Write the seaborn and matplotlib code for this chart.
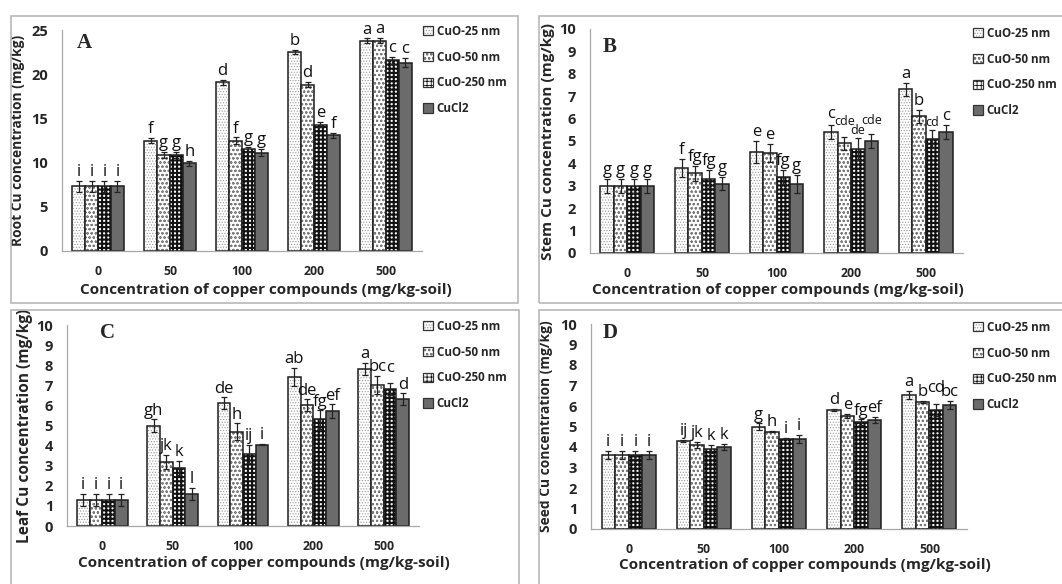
import numpy as np
import pandas as pd
import matplotlib
matplotlib.use("Agg")
import matplotlib.pyplot as plt
import matplotlib.patheffects as pe
import seaborn as sns
from matplotlib.patches import Patch, Rectangle

sns.set_theme(style="white")
plt.rcParams['font.family'] = ['Open Sans', 'DejaVu Sans']
plt.rcParams['hatch.linewidth'] = 0.6

concs = ["0", "50", "100", "200", "500"]
compounds = ["CuO-25 nm", "CuO-50 nm", "CuO-250 nm", "CuCl2"]

# Root (A)
root_vals = [[7.3, 12.5, 19.1, 22.5, 23.8],
             [7.3, 10.9, 12.5, 18.8, 23.8],
             [7.3, 10.9, 11.5, 14.3, 21.6],
             [7.3, 9.9, 11.1, 13.1, 21.3]]
root_err = [[0.6, 0.3, 0.3, 0.2, 0.25],
            [0.6, 0.35, 0.35, 0.3, 0.3],
            [0.6, 0.35, 0.3, 0.3, 0.4],
            [0.6, 0.3, 0.4, 0.3, 0.5]]
root_let = [["i", "f", "d", "b", "a"],
            ["i", "g", "f", "d", "a"],
            ["i", "g", "g", "e", "c"],
            ["i", "h", "g", "f", "c"]]

# Stem (B)
stem_vals = [[3.0, 3.8, 4.5, 5.4, 7.3],
             [3.0, 3.55, 4.45, 4.9, 6.1],
             [3.0, 3.3, 3.4, 4.65, 5.1],
             [3.0, 3.1, 3.1, 5.0, 5.4]]
stem_err = [[0.3, 0.4, 0.5, 0.3, 0.3],
            [0.3, 0.35, 0.4, 0.3, 0.3],
            [0.3, 0.4, 0.3, 0.5, 0.4],
            [0.3, 0.3, 0.4, 0.3, 0.3]]
stem_let = [["g", "f", "e", "c", "a"],
            ["g", "fg", "e", "cde", "b"],
            ["g", "fg", "fg", "de", "cd"],
            ["g", "g", "g", "cde", "c"]]

# Leaf (C)
leaf_vals = [[1.3, 5.0, 6.1, 7.4, 7.8],
             [1.3, 3.2, 4.7, 6.0, 7.0],
             [1.3, 2.9, 3.6, 5.3, 6.8],
             [1.3, 1.6, 4.05, 5.7, 6.3]]
leaf_err = [[0.3, 0.3, 0.3, 0.45, 0.3],
            [0.3, 0.35, 0.4, 0.3, 0.45],
            [0.3, 0.35, 0.45, 0.45, 0.3],
            [0.3, 0.3, 0.03, 0.35, 0.3]]
leaf_let = [["i", "gh", "de", "ab", "a"],
            ["i", "jk", "h", "de", "bc"],
            ["i", "k", "ij", "fg", "c"],
            ["i", "l", "i", "ef", "d"]]

# Seed (D)
seed_vals = [[3.6, 4.3, 5.0, 5.8, 6.55],
             [3.6, 4.1, 4.75, 5.5, 6.2],
             [3.6, 3.9, 4.4, 5.2, 5.8],
             [3.6, 4.0, 4.4, 5.3, 6.05]]
seed_err = [[0.2, 0.05, 0.15, 0.05, 0.2],
            [0.2, 0.15, 0.03, 0.1, 0.05],
            [0.2, 0.2, 0.03, 0.15, 0.3],
            [0.2, 0.15, 0.2, 0.15, 0.2]]
seed_let = [["i", "ij", "g", "d", "a"],
            ["i", "jk", "h", "e", "b"],
            ["i", "k", "i", "fg", "cd"],
            ["i", "k", "i", "ef", "bc"]]

ylabels = ["Root Cu concentration (mg/kg)", "Stem Cu concentration (mg/kg)",
           "Leaf Cu concentration (mg/kg)", "Seed Cu concentration (mg/kg)"]
panel_tags = ["A", "B", "C", "D"]
xlabel = "Concentration of copper compounds (mg/kg-soil)"

face_colors = ["white", "white", "white", "#6b6b6b"]
hatch_colors = ["#9a9a9a", "#7a7a7a", "#111111", "#333333"]
hatches = ["......", "oooo", "++++", ""]

# extra lift of some letter labels (panel, series, group) -> data units
label_lift = {(1, 1, 3): 0.35, (1, 3, 3): 0.3, (1, 0, 3): 0.1,
              (2, 2, 4): 0.32, (3, 2, 4): 0.35}

W, H = 1062, 584
fig = plt.figure(figsize=(W / 100, H / 100), dpi=100)

# panel boxes (pixel coords: x0, y0_top, x1, y1_bottom)
boxes = [(11, 16, 518, 303), (539, 16, 1070, 303), (11, 310, 519, 590), (539, 310, 1070, 590)]
for (x0, y0, x1, y1) in boxes:
    fig.patches.append(Rectangle((x0 / W, 1 - y1 / H), (x1 - x0) / W, (y1 - y0) / H,
                                 transform=fig.transFigure, fill=False,
                                 edgecolor="#b8b8b8", linewidth=1.2, zorder=0))

# axes pixel rects: left, top, right, bottom
ax_px = [(62, 30, 422, 251), (590, 29, 963, 253), (67, 325, 419, 526), (591, 324, 967, 529)]
ylims = [(0, 25, 5), (0, 10, 1), (0, 10, 1), (0, 10, 1)]
tag_pos = [(0.04, 0.94), (0.035, 0.92), (0.094, 0.96), (0.032, 0.956)]
leg_pos = [(418, 20), (968, 22), (418, 315), (968, 316)]
xlabel_xy = [(0.567, -0.176), (0.505, -0.165), (0.56, -0.184), (0.569, -0.176)]
ylabel_x = [-0.103, -0.094, -0.097, -0.101]
ylabel_fs = [9.9, 11.0, 11.2, 9.9]

datasets = [(root_vals, root_err, root_let), (stem_vals, stem_err, stem_let),
            (leaf_vals, leaf_err, leaf_let), (seed_vals, seed_err, seed_let)]

for k in range(4):
    vals, errs, lets = datasets[k]
    l, t, r, b = ax_px[k]
    ax = fig.add_axes([l / W, 1 - b / H, (r - l) / W, (b - t) / H])
    rows = []
    for ci, comp in enumerate(compounds):
        for xi, c in enumerate(concs):
            rows.append({"conc": c, "compound": comp, "value": vals[ci][xi]})
    df = pd.DataFrame(rows)
    sns.barplot(data=df, x="conc", y="value", hue="compound", order=concs,
                hue_order=compounds, palette=face_colors, width=0.72, gap=0,
                errorbar=None, legend=False, edgecolor="#1a1a1a", linewidth=1.0,
                saturation=1, ax=ax)
    ymin, ymax, ystep = ylims[k]
    bar_conts = list(ax.containers)
    for ci, cont in enumerate(bar_conts):
        for xi, bar in enumerate(cont):
            bar.set_facecolor(face_colors[ci])
            bar.set_edgecolor(hatch_colors[ci])
            bar.set_hatch(hatches[ci])
            if hasattr(bar, "set_hatch_linewidth"):
                bar.set_hatch_linewidth(1.5 if ci == 2 else 0.5)
            bar.set_path_effects([pe.Stroke(linewidth=1.1, foreground="#1e1e1e")])
            x = bar.get_x() + bar.get_width() / 2
            y = bar.get_height()
            e = errs[ci][xi]
            ax.errorbar(x, y, yerr=e, fmt="none", ecolor="#222222",
                        elinewidth=0.9, capsize=2.5, capthick=0.9, zorder=5)
            lab = lets[ci][xi]
            fs = 12
            if k == 1 and xi >= 3 and len(lab) >= 2:
                fs = 9
            lift = label_lift.get((k, ci, xi), 0.0)
            ax.text(x, y + e + (ymax - ymin) * 0.004 + lift, lab, ha="center",
                    va="bottom", fontsize=fs, color="#111111", zorder=6)
    ax.set_xlim(-0.5, 4.5)
    ax.set_ylim(ymin, ymax)
    ax.set_yticks(np.arange(ymin, ymax + 0.001, ystep))
    ax.set_yticklabels([str(int(v)) for v in np.arange(ymin, ymax + 0.001, ystep)],
                       fontweight="bold", fontsize=10.5)
    ax.set_xticks(range(5))
    ax.set_xticklabels(concs, fontweight="bold", fontsize=8.8)
    ax.set_xticks(np.arange(-0.5, 5, 1), minor=True)
    ax.tick_params(axis="x", which="major", length=0, pad=10)
    ax.tick_params(axis="x", which="minor", length=4, color="#a0a0a0", width=0.8)
    ax.tick_params(axis="y", which="major", length=4, color="#a0a0a0", width=0.8, pad=6)
    for s in ["top", "right"]:
        ax.spines[s].set_visible(False)
    for s in ["left", "bottom"]:
        ax.spines[s].set_color("#a8a8a8")
        ax.spines[s].set_linewidth(0.9)
    ax.set_ylabel(ylabels[k], fontweight="bold", fontsize=ylabel_fs[k])
    ax.yaxis.set_label_coords(ylabel_x[k], 0.5)
    ax.set_xlabel(xlabel, fontweight="bold", fontsize=11)
    ax.xaxis.set_label_coords(xlabel_xy[k][0], xlabel_xy[k][1])
    ax.xaxis.label.set_va("center")
    ax.text(tag_pos[k][0], tag_pos[k][1], panel_tags[k], transform=ax.transAxes,
            fontsize=15, fontweight="bold", family="Liberation Serif",
            ha="left", va="center")
    handles = [Patch(facecolor=face_colors[i], edgecolor=hatch_colors[i], hatch=hatches[i],
                     linewidth=0.8, label=compounds[i],
                     path_effects=[pe.Stroke(linewidth=0.9, foreground="#333333")])
               for i in range(4)]
    lx, ly = leg_pos[k]
    ax.legend(handles=handles, loc="upper left", bbox_to_anchor=(lx / W, 1 - ly / H),
              bbox_transform=fig.transFigure, frameon=False,
              prop={"weight": "bold", "size": 8.4}, handlelength=0.85, handleheight=0.85,
              handletextpad=0.35, labelspacing=1.1, borderaxespad=0)

fig.savefig("out.png", dpi=100)
